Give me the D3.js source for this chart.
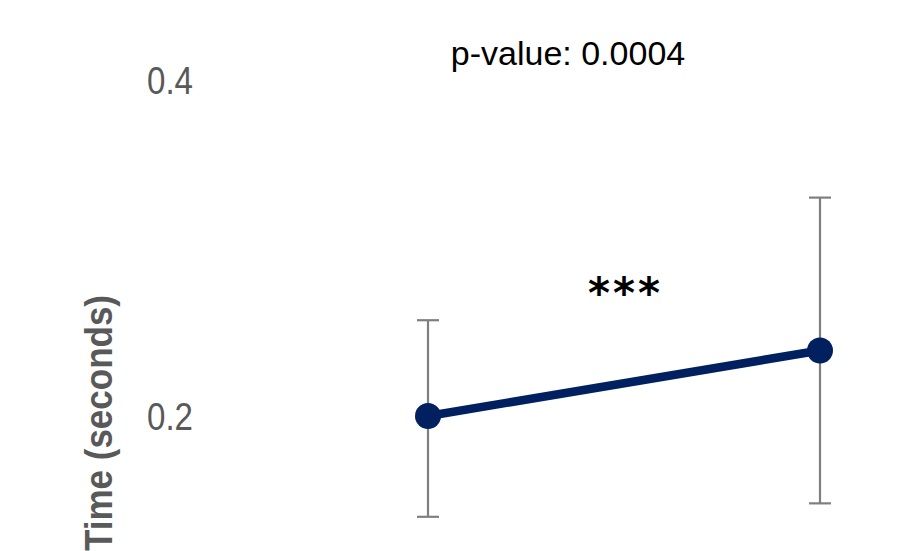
<!DOCTYPE html>
<html>
<head>
<meta charset="utf-8">
<script src="https://cdn.jsdelivr.net/npm/d3@7"></script>
<style>
  html, body { margin: 0; padding: 0; background: #fff; overflow: hidden; }
  svg { display: block; }
</style>
</head>
<body>
<svg id="chart" width="907" height="551"></svg>
<script>
// data
const categories = ['Condition A', 'Condition B'];
const meanTimes = [0.200, 0.239];
const upperErr = [0.257, 0.330];
const lowerErr = [0.140, 0.148];
const yTicks = [0.2, 0.4];
const pValueText = 'p-value: 0.0004';
const sigText = '***';

const svg = d3.select('#chart');

const y = d3.scaleLinear().domain([0, 0.4]).range([752, 80]);
const x = d3.scalePoint().domain(categories).range([428, 820]);

// y axis (labels only)
const yAxis = svg.append('g')
    .attr('transform', 'translate(200,0)')
    .call(d3.axisLeft(y).tickValues(yTicks).tickSize(0).tickPadding(7).tickFormat(d3.format('.1f')));
yAxis.select('.domain').remove();
yAxis.selectAll('text')
    .attr('font-family', 'Liberation Sans, Arial, sans-serif')
    .attr('font-size', 39)
    .attr('fill', '#595959')
    .attr('dy', '0.34em')
    .attr('textLength', 46)
    .attr('lengthAdjust', 'spacingAndGlyphs');

// axis title
svg.append('text')
    .attr('transform', 'translate(112,295) rotate(-90)')
    .attr('text-anchor', 'end')
    .attr('font-family', 'Liberation Sans, Arial, sans-serif')
    .attr('font-weight', 'bold')
    .attr('font-size', 39)
    .attr('fill', '#595959')
    .attr('textLength', 256)
    .attr('lengthAdjust', 'spacingAndGlyphs')
    .text('Time (seconds)');

// error bars
const bars = svg.append('g').selectAll('g')
    .data(categories)
    .enter().append('g')
    .attr('stroke', '#7f7f7f')
    .attr('stroke-width', 2.2);

bars.append('line')
    .attr('x1', d => x(d)).attr('x2', d => x(d))
    .attr('y1', (d, i) => y(upperErr[i]))
    .attr('y2', (d, i) => y(lowerErr[i]));
bars.append('line')
    .attr('x1', d => x(d) - 11).attr('x2', d => x(d) + 11)
    .attr('y1', (d, i) => y(upperErr[i])).attr('y2', (d, i) => y(upperErr[i]));
bars.append('line')
    .attr('x1', d => x(d) - 11).attr('x2', d => x(d) + 11)
    .attr('y1', (d, i) => y(lowerErr[i])).attr('y2', (d, i) => y(lowerErr[i]));

// mean line + points
const line = d3.line()
    .x((d, i) => x(categories[i]))
    .y(d => y(d));

svg.append('path')
    .datum(meanTimes)
    .attr('d', line)
    .attr('fill', 'none')
    .attr('stroke', '#002060')
    .attr('stroke-width', 8.5);

svg.append('g').selectAll('circle')
    .data(meanTimes)
    .enter().append('circle')
    .attr('cx', (d, i) => x(categories[i]))
    .attr('cy', d => y(d))
    .attr('r', 13)
    .attr('fill', '#002060');

// annotations
svg.append('text')
    .attr('x', 568)
    .attr('y', 65)
    .attr('text-anchor', 'middle')
    .attr('font-family', 'Liberation Sans, Arial, sans-serif')
    .attr('font-size', 34)
    .attr('fill', '#000')
    .text(pValueText);

svg.append('text')
    .attr('x', 624)
    .attr('y', 308)
    .attr('text-anchor', 'middle')
    .attr('font-family', 'DejaVu Sans, sans-serif')
    .attr('font-weight', 'bold')
    .attr('font-size', 42)
    .attr('fill', '#000')
    .attr('textLength', 72)
    .attr('lengthAdjust', 'spacing')
    .text(sigText);
</script>
</body>
</html>
